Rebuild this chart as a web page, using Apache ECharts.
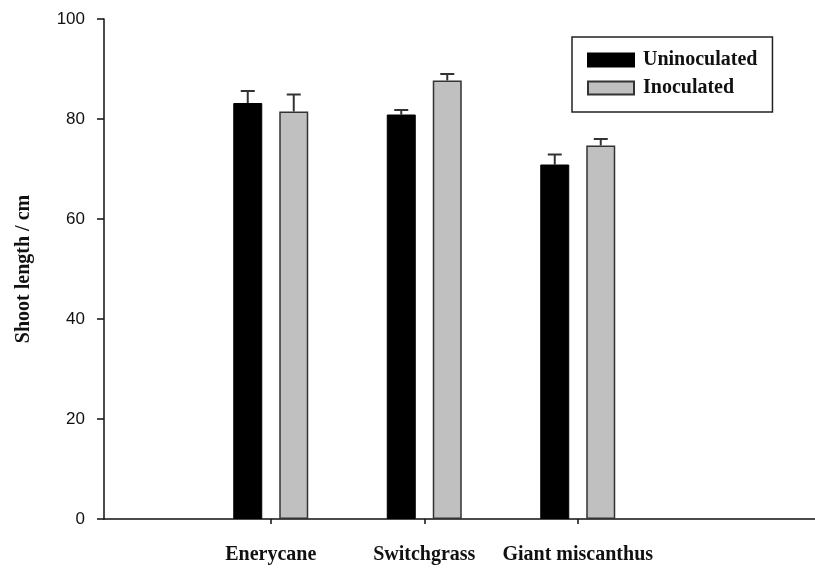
<!DOCTYPE html>
<html>
<head>
<meta charset="utf-8">
<script src="https://cdn.jsdelivr.net/npm/echarts@6/dist/echarts.min.js"></script>
<style>html,body{margin:0;padding:0;background:#fff}#c{width:815px;height:568px}</style>
</head>
<body>
<div id="c"></div>
<script>
const categories = ['Enerycane', 'Switchgrass', 'Giant miscanthus'];
const seriesNames = ['Uninoculated', 'Inoculated'];
const uninoculated = [83.2, 80.9, 70.9];
const inoculated = [81.5, 87.7, 74.7];
const uninoculatedErr = [2.4, 0.9, 2.0];
const inoculatedErr = [3.4, 1.3, 1.3];
const yMin = 0, yMax = 100, yStep = 20;

const BAR_W = 29, BAR_GAP = 17, CAP_W = 14;
const serif = '"Liberation Serif", "Times New Roman", serif';

function errSeries(name, means, errs, sign) {
  return {
    type: 'custom',
    name: name + ' err',
    xAxisIndex: 1, yAxisIndex: 1,
    silent: true,
    z: 1,
    data: means.map((m, i) => [i, m, m + errs[i]]),
    renderItem: function (params, api) {
      const off = sign * (BAR_W + BAR_GAP) / 2;
      const base = api.coord([api.value(0), api.value(1)]);
      const top = api.coord([api.value(0), api.value(2)]);
      const x = base[0] + off;
      const st = { stroke: '#333', lineWidth: 2 };
      return {
        type: 'group',
        children: [
          { type: 'line', shape: { x1: x, y1: base[1], x2: x, y2: top[1] }, style: st },
          { type: 'line', shape: { x1: x - CAP_W / 2, y1: top[1], x2: x + CAP_W / 2, y2: top[1] }, style: st }
        ]
      };
    }
  };
}

const chart = echarts.init(document.getElementById('c'));
chart.setOption({
  animation: false,
  backgroundColor: '#fff',
  legend: {
    data: seriesNames,
    orient: 'vertical',
    left: 572, top: 37,
    padding: [13, 15, 14, 15],
    itemGap: 8,
    itemWidth: 46, itemHeight: 13,
    icon: 'rect',
    borderColor: '#222', borderWidth: 1.5,
    textStyle: { fontFamily: serif, fontWeight: 'bold', fontSize: 20, color: '#111', lineHeight: 19, padding: [0, 0, 0, 4] },
    selectedMode: false
  },
  grid: [
    { left: 104, right: 0, top: 19, bottom: 49 },
    { left: 194, width: 460.5, top: 19, bottom: 49 }
  ],
  xAxis: [
    { type: 'value', gridIndex: 0, min: 0, max: 1, axisLine: { show: true, lineStyle: { color: '#111', width: 1.5 } },
      axisTick: { show: false }, axisLabel: { show: false }, splitLine: { show: false } },
    { type: 'category', gridIndex: 1, data: categories, boundaryGap: true,
      axisLine: { show: false },
      axisTick: { show: true, interval: 0, alignWithLabel: true, length: 5, lineStyle: { color: '#111', width: 1.5 } },
      axisLabel: { interval: 0, margin: 26, fontFamily: serif, fontWeight: 'bold', fontSize: 20, color: '#111' },
      splitLine: { show: false } }
  ],
  yAxis: [
    { type: 'value', gridIndex: 0, min: yMin, max: yMax, interval: yStep,
      name: 'Shoot length / cm', nameLocation: 'middle', nameGap: 70,
      nameTextStyle: { fontFamily: serif, fontWeight: 'bold', fontSize: 20, color: '#111' },
      axisLine: { show: true, lineStyle: { color: '#111', width: 1.5 } },
      axisTick: { show: true, inside: false, length: 7, lineStyle: { color: '#111', width: 1.5 } },
      axisLabel: { margin: 19, fontFamily: '"Liberation Sans", Arial, sans-serif', fontSize: 17, color: '#111' },
      splitLine: { show: false } },
    { type: 'value', gridIndex: 1, min: yMin, max: yMax, interval: yStep, show: false, splitLine: { show: false } }
  ],
  series: [
    { type: 'bar', name: seriesNames[0], xAxisIndex: 1, yAxisIndex: 1, data: uninoculated,
      barWidth: BAR_W, barGap: (BAR_GAP / BAR_W * 100) + '%', z: 2,
      itemStyle: { color: '#000', borderColor: '#000', borderWidth: 1 } },
    { type: 'bar', name: seriesNames[1], xAxisIndex: 1, yAxisIndex: 1, data: inoculated,
      barWidth: BAR_W, z: 2,
      itemStyle: { color: '#c0c0c0', borderColor: '#333', borderWidth: 1.5 } },
    errSeries(seriesNames[0], uninoculated, uninoculatedErr, -1),
    errSeries(seriesNames[1], inoculated, inoculatedErr, 1)
  ]
});
</script>
</body>
</html>
